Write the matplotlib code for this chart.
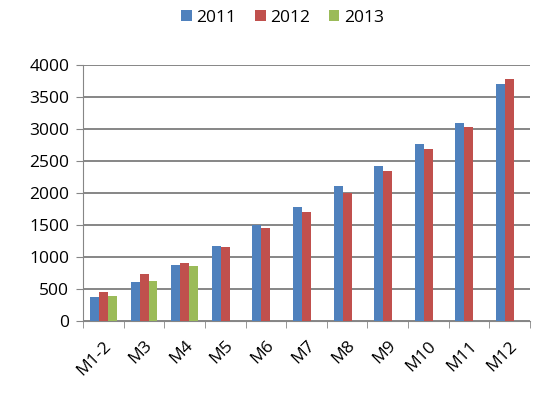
import numpy as np
import matplotlib.pyplot as plt

months = ["M1-2", "M3", "M4", "M5", "M6", "M7", "M8", "M9", "M10", "M11", "M12"]
y2011 = [370, 615, 875, 1170, 1500, 1780, 2110, 2420, 2770, 3100, 3710]
y2012 = [460, 735, 910, 1150, 1460, 1710, 1995, 2340, 2690, 3030, 3780]
y2013 = [390, 630, 860]

colors = ["#4F81BD", "#C0504D", "#9BBB59"]
plt.rcParams["font.family"] = ["Open Sans", "DejaVu Sans"]

fig = plt.figure(figsize=(5.33, 3.94), dpi=100)
ax = fig.add_axes([0.156, 0.185, 0.838, 0.65])

x = np.arange(len(months))
w = 0.22
ax.bar(x - w, y2011, w, color=colors[0], label="2011", zorder=3)
ax.bar(x, y2012, w, color=colors[1], label="2012", zorder=3)
ax.bar(x[:len(y2013)] + w, y2013, w, color=colors[2], label="2013", zorder=3)

ax.set_xlim(-0.5, len(months) - 0.5)
ax.set_ylim(0, 4000)
ax.set_yticks(np.arange(0, 4001, 500))
ax.yaxis.grid(True, color="#868686", linewidth=1.4, zorder=0)

ax.set_xticks(x)
ax.set_xticklabels(months, rotation=45, ha="right", rotation_mode="anchor")
ax.set_xticks(np.arange(-0.5, len(months)), minor=True)
ax.tick_params(axis="x", which="major", length=0, pad=12, labelsize=12.5)
ax.tick_params(axis="x", which="minor", length=5, color="#868686")
ax.tick_params(axis="y", length=5, color="#868686", labelsize=12.5, pad=5)

for s in ["top", "right"]:
    ax.spines[s].set_visible(False)
for s in ["left", "bottom"]:
    ax.spines[s].set_color("#868686")

fig.legend(loc="center", bbox_to_anchor=(0.53, 0.955), ncol=3, frameon=False,
           fontsize=12.5, handlelength=0.6, handleheight=0.6, handletextpad=0.25,
           columnspacing=1.1)

fig.savefig("out.png", dpi=100)
